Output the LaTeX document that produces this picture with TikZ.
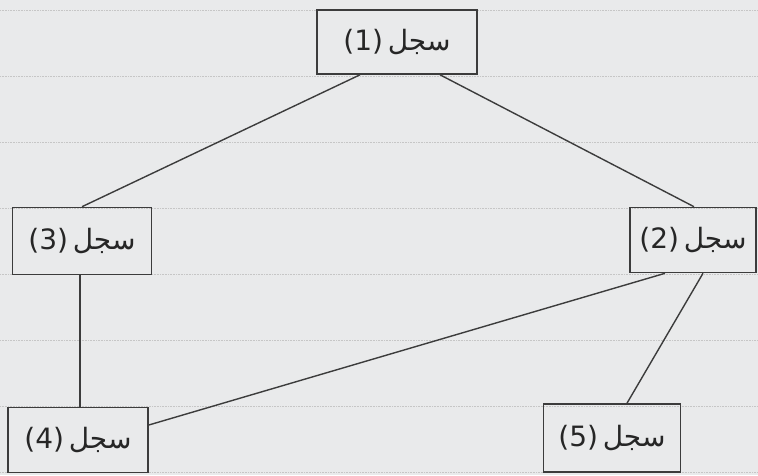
\documentclass[tikz,border=0pt]{standalone}
\usepackage{fontspec}
\usepackage{xcolor}
\usepackage{tikz}
\usetikzlibrary{positioning,calc}
\TeXXeTstate=1
\newfontfamily\arabicfont[Script=Arabic]{DejaVu Sans}
\definecolor{inkgray}{HTML}{3C3C3C}
\definecolor{papergray}{HTML}{E9EAEB}
\tikzset{
  recbox/.style={
    rectangle, draw=inkgray, fill=none, line width=1.6pt,
    inner sep=2pt, font=\arabicfont\fontsize{28}{32}\selectfont, text=black!85
  },
  recedge/.style={draw=inkgray,line width=1.4pt},
  recrule/.style={gray!45,densely dotted,line width=0.6pt}
}
\newcommand{\reclabel}[1]{(#1)\,{\beginR سجل\endR}}

\begin{document}
\begin{tikzpicture}[x=1pt,y=-1pt]
  \useasboundingbox[fill=papergray] (0,0) rectangle (758,475);
  % paper lines
  \foreach \yy in {10,76,142,208,274,340,406,472}
    \draw[recrule] (0,\yy) -- (758,\yy);
  \node[recbox,minimum width=160pt,minimum height=64pt] (r1) at (397,42) {\reclabel{1}};
  \node[recbox,minimum width=139pt,minimum height=67pt] (r3) at (82,241) {\reclabel{3}};
  \node[recbox,minimum width=126pt,minimum height=65pt] (r2) at (693,240) {\reclabel{2}};
  \node[recbox,minimum width=140pt,minimum height=65pt] (r4) at (78,440) {\reclabel{4}};
  \node[recbox,minimum width=137pt,minimum height=68pt] (r5) at (612,438) {\reclabel{5}};
  \draw[recedge] ([xshift=-37pt]r1.south) -- (r3.north);
  \draw[recedge] ([xshift=43pt]r1.south) -- ([xshift=1pt]r2.north);
  \draw[recedge] ([xshift=-2pt]r3.south) -- ([xshift=2pt]r4.north);
  \draw[recedge] ([xshift=-28pt]r2.south) -- ([yshift=15pt]r4.east);
  \draw[recedge] ([xshift=10pt]r2.south) -- ([xshift=15pt]r5.north);
\end{tikzpicture}
\end{document}
